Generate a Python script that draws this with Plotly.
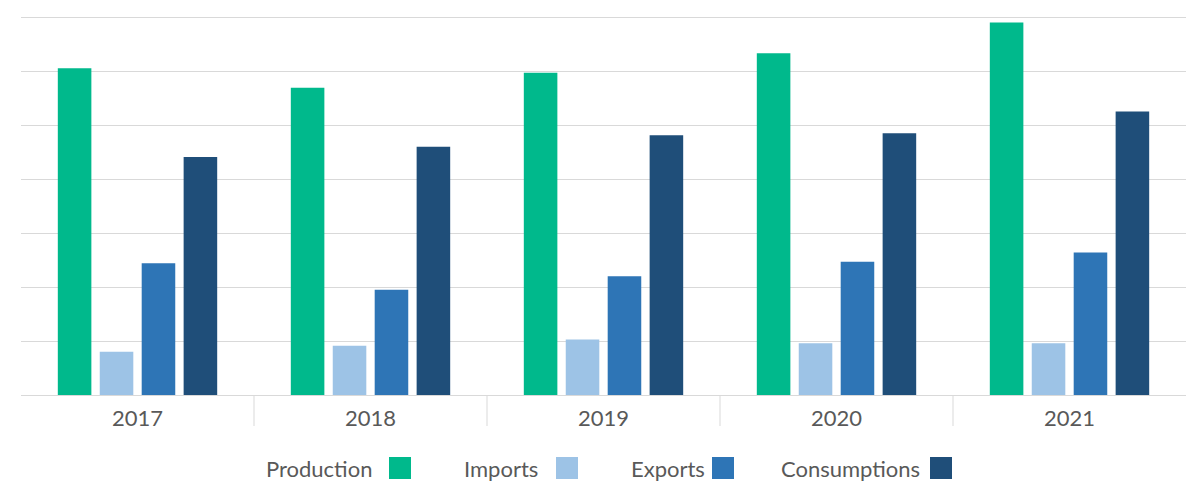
import plotly.graph_objects as go

# -------------------------
# DATA (in gridline units)
# -------------------------
years = ["2017", "2018", "2019", "2020", "2021"]
production = [6.05, 5.69, 5.97, 6.33, 6.90]
imports = [0.80, 0.91, 1.03, 0.96, 0.96]
exports = [2.44, 1.95, 2.20, 2.47, 2.64]
consumptions = [4.41, 4.60, 4.81, 4.85, 5.25]

series_names = ["Production", "Imports", "Exports", "Consumptions"]
series_values = [production, imports, exports, consumptions]
colors = ["#00B98C", "#9DC3E6", "#2E75B6", "#1F4E79"]

# -------------------------
# LAYOUT GEOMETRY
# the page body has an 8px margin, so shift everything up/left by 8
# -------------------------
W, H = 1200, 500
off = 8
m_l, m_r, m_t, m_b = 21 - off, 14 + off, 16 - off, 105 + off
plot_w = W - m_l - m_r
plot_h = H - m_t - m_b
base_y = H - m_b + off  # baseline in window pixels

fig = go.Figure()
for name, vals, col in zip(series_names, series_values, colors):
    fig.add_trace(go.Bar(
        x=years, y=vals, name=name,
        marker=dict(color=col, line=dict(width=0)),
        showlegend=False,
    ))

# separators between categories
for i in range(len(years) - 1):
    fig.add_shape(
        type="line", xref="x", yref="paper",
        x0=i + 0.5, x1=i + 0.5, y0=0, y1=-31 / plot_h,
        line=dict(color="#d9d9d9", width=1),
    )

# custom legend: text then square (window pixels)
legend_text_right = [372, 538, 705, 920]
legend_square_left = [389, 556, 712, 930]
sq = 22
leg_y = 468
for name, col, tx, sx in zip(series_names, colors, legend_text_right, legend_square_left):
    fig.add_annotation(
        xref="paper", yref="paper",
        x=(tx - 21) / plot_w, y=(base_y - leg_y) / plot_h,
        text=name, showarrow=False, xanchor="right", yanchor="middle",
        xshift=2,
        font=dict(family="Lato", size=22, color="#595959"),
    )
    fig.add_shape(
        type="rect", xref="paper", yref="paper",
        x0=(sx - 21) / plot_w, x1=(sx + sq - 21) / plot_w,
        y0=(base_y - leg_y - sq / 2) / plot_h, y1=(base_y - leg_y + sq / 2) / plot_h,
        fillcolor=col, line=dict(width=0),
    )

fig.update_layout(
    width=W, height=H,
    margin=dict(l=m_l, r=m_r, t=m_t, b=m_b),
    paper_bgcolor="white", plot_bgcolor="white",
    barmode="group", bargap=0.28, bargroupgap=0.2,
    font=dict(family="Lato", color="#595959"),
)
fig.update_xaxes(
    type="category", range=[-0.5, len(years) - 0.5],
    showgrid=False, showline=True, linecolor="#d9d9d9", linewidth=1,
    ticks="outside", ticklen=4, tickcolor="rgba(0,0,0,0)",
    tickfont=dict(family="Lato", size=22, color="#595959"),
)
fig.update_yaxes(
    range=[0, 7.02], dtick=1, showticklabels=False,
    showgrid=True, gridcolor="#d9d9d9", gridwidth=1,
    zeroline=False, showline=False,
)

fig.write_html("out.html")
